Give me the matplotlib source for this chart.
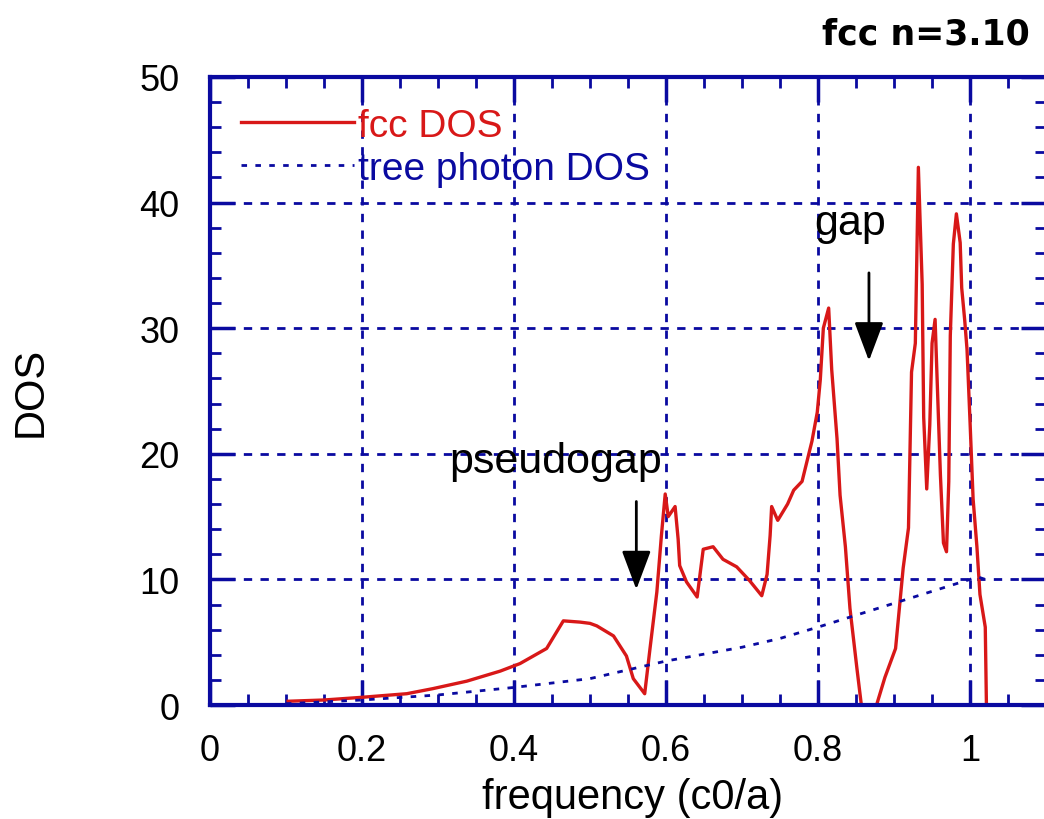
import numpy as np
import matplotlib.pyplot as plt
from matplotlib.pyplot import MultipleLocator

# fcc photonic crystal DOS, n = 3.10
freq_fcc = [0.103, 0.15, 0.197, 0.259, 0.293, 0.338, 0.382, 0.408, 0.443, 0.465,
            0.487, 0.5, 0.509, 0.531, 0.548, 0.557, 0.572, 0.579, 0.588, 0.594,
            0.599, 0.603, 0.612, 0.616, 0.618, 0.627, 0.641, 0.649, 0.662, 0.675,
            0.693, 0.71, 0.726, 0.733, 0.737, 0.739, 0.747, 0.76, 0.768, 0.779,
            0.792, 0.799, 0.803, 0.807, 0.814, 0.818, 0.825, 0.829, 0.836, 0.842,
            0.851, 0.857, 0.862, 0.877, 0.888, 0.902, 0.912, 0.919, 0.923, 0.928,
            0.932, 0.937, 0.939, 0.943, 0.947, 0.95, 0.954, 0.956, 0.961, 0.965,
            0.969, 0.972, 0.974, 0.978, 0.982, 0.987, 0.989, 0.993, 0.996, 1.0,
            1.004, 1.009, 1.013, 1.02, 1.022]
dos_fcc = [0.3, 0.4, 0.6, 0.9, 1.3, 1.9, 2.7, 3.3, 4.5, 6.7,
           6.6, 6.5, 6.3, 5.5, 3.9, 2.1, 0.9, 4.5, 9.0, 13.5,
           16.8, 15.0, 15.8, 13.2, 11.1, 9.8, 8.6, 12.4, 12.6, 11.6,
           11.0, 9.9, 8.7, 10.4, 13.5, 15.8, 14.7, 16.0, 17.1, 17.8,
           21.0, 23.3, 25.9, 30.0, 31.6, 26.7, 21.2, 16.7, 12.6, 7.7,
           3.0, 0.0, -2.0, 0.0, 2.2, 4.5, 10.9, 14.1, 26.5, 28.8,
           42.8, 33.5, 22.9, 17.2, 22.3, 28.8, 30.7, 27.1, 18.3, 12.9,
           12.2, 17.8, 29.4, 36.7, 39.1, 36.8, 33.2, 30.6, 28.3, 22.5,
           16.4, 12.6, 8.8, 6.2, -2.0]

# free photon DOS
freq_free = [0.1, 0.2, 0.3, 0.4, 0.5, 0.6, 0.7, 0.75, 0.8, 0.9, 1.0, 1.01, 1.02]
dos_free = [0.1, 0.4, 0.8, 1.4, 2.1, 3.5, 4.6, 5.3, 6.2, 8.1, 10.0, 10.2, 10.0]

xticks = [0, 0.2, 0.4, 0.6, 0.8, 1]
xticklabels = ['0', '0.2', '0.4', '0.6', '0.8', '1']
yticks = [0, 10, 20, 30, 40, 50]

navy = '#0a0aa0'
red = '#d81818'

plt.rcParams['font.family'] = ['Liberation Sans', 'DejaVu Sans']

fig = plt.figure(figsize=(10.44, 8.2), dpi=100)
ax = fig.add_axes([0.201, 0.139, 0.801, 0.766])

ax.plot(freq_fcc, dos_fcc, color=red, lw=2.4, label='fcc DOS')
ax.plot(freq_free, dos_free, color=navy, lw=2, ls=(0, (2, 3)), label='tree photon DOS')

ax.set_xlim(0, 1.1)
ax.set_ylim(0, 50)
ax.set_xticks(xticks)
ax.set_xticklabels(xticklabels)
ax.set_yticks(yticks)
ax.xaxis.set_minor_locator(MultipleLocator(0.05))
ax.yaxis.set_minor_locator(MultipleLocator(2))

ax.grid(True, which='major', color=navy, lw=2, ls=(0, (3, 3)))
for s in ax.spines.values():
    s.set_color(navy)
    s.set_linewidth(3)
ax.tick_params(which='both', direction='in', top=True, right=True, color=navy)
ax.tick_params(which='major', length=18, width=2.5, labelsize=26)
ax.tick_params(axis='x', which='major', pad=20)
ax.tick_params(axis='y', which='major', pad=22)
ax.tick_params(which='minor', length=8, width=2)

ax.set_xlabel('frequency (c0/a)', fontsize=30)
ax.xaxis.set_label_coords(0.505, -0.115)
ax.set_ylabel('DOS', fontsize=30)
ax.yaxis.set_label_coords(-0.19, 0.5)

leg = ax.legend(loc='upper left', frameon=False, fontsize=28, handlelength=2.9,
                handletextpad=0.1, labelspacing=0.18, borderaxespad=0.4,
                labelcolor='linecolor')

arrow = dict(arrowstyle='-|>,head_width=0.9,head_length=2.4', color='black',
             lw=2, mutation_scale=10, shrinkA=0, shrinkB=0)
ax.annotate('', xy=(0.561, 9.2), xytext=(0.561, 16.2), arrowprops=arrow)
ax.annotate('', xy=(0.867, 27.4), xytext=(0.867, 34.4), arrowprops=arrow)
ax.text(0.455, 19.4, 'pseudogap', fontsize=31, ha='center', va='center')
ax.text(0.842, 38.4, 'gap', fontsize=31, ha='center', va='center')

fig.text(0.986, 0.958, 'fcc n=3.10', fontsize=25, fontweight='bold',
         family='DejaVu Sans', ha='right', va='center')

fig.savefig('out.png', dpi=100)
